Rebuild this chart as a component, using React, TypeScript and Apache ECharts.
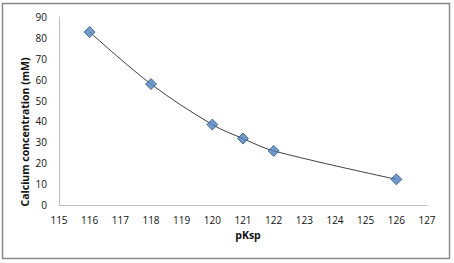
import React, { useEffect, useRef } from "react";
import * as echarts from "echarts";

const pKsp = [116, 118, 120, 121, 122, 126];
const calcium = [82.8, 57.9, 38.5, 31.8, 25.9, 12.3];
const xTicks = [115, 127];
const yTicks = [0, 90];
const yTitle = "Calcium concentration (mM)";
const xTitle = "pKsp";

export default function App() {
  const ref = useRef<HTMLDivElement>(null);
  useEffect(() => {
    const chart = echarts.init(ref.current!, null, { renderer: "svg" });
    const pts = pKsp.map((x, i) => [x, calcium[i]]);
    const font = "Open Sans";
    chart.setOption({
      animation: false,
      backgroundColor: "#fff",
      graphic: [
        {
          type: "rect",
          shape: { x: 2.5, y: 3.5, width: 447, height: 255 },
          style: { fill: "none", stroke: "#8a8a8a", lineWidth: 1.5 },
          z: 10,
        },
        {
          type: "text",
          x: 25,
          y: 132,
          rotation: Math.PI / 2,
          style: {
            text: yTitle,
            fontFamily: font,
            fontSize: 10.5,
            fontWeight: "bold",
            fill: "#111",
            align: "center",
            verticalAlign: "middle",
          },
        },
      ],
      grid: { left: 59, right: 27, top: 17, bottom: 58, containLabel: false },
      xAxis: {
        type: "value",
        min: xTicks[0],
        max: xTicks[1],
        interval: 1,
        name: xTitle,
        nameLocation: "middle",
        nameGap: 24,
        nameTextStyle: { fontFamily: font, fontSize: 10.5, fontWeight: "bold", color: "#111", padding: [0, 0, 0, 10] },
        axisLine: { lineStyle: { color: "#bfbfbf", width: 1 } },
        axisTick: { show: false },
        splitLine: { show: false },
        axisLabel: { fontFamily: font, fontSize: 10, color: "#111", margin: 10 },
      },
      yAxis: {
        type: "value",
        min: yTicks[0],
        max: yTicks[1],
        interval: 10,
        axisLine: { show: true, lineStyle: { color: "#bfbfbf", width: 1 } },
        axisTick: { show: false },
        splitLine: { show: false },
        axisLabel: { fontFamily: font, fontSize: 10, color: "#111", margin: 12 },
      },
      series: [
        {
          type: "line",
          data: pts,
          smooth: 0.35,
          showSymbol: false,
          symbol: "none",
          lineStyle: { color: "#404040", width: 1 },
          z: 2,
        },
        {
          type: "scatter",
          data: pts,
          symbol: "diamond",
          symbolSize: 11,
          itemStyle: { color: "#4f81bd", borderColor: "#2c5585", borderWidth: 1 },
          z: 3,
        },
      ],
    });
    return () => chart.dispose();
  }, []);
  return (
    <div
      ref={ref}
      style={{ position: "fixed", left: 0, top: 0, width: 454, height: 263 }}
    />
  );
}
